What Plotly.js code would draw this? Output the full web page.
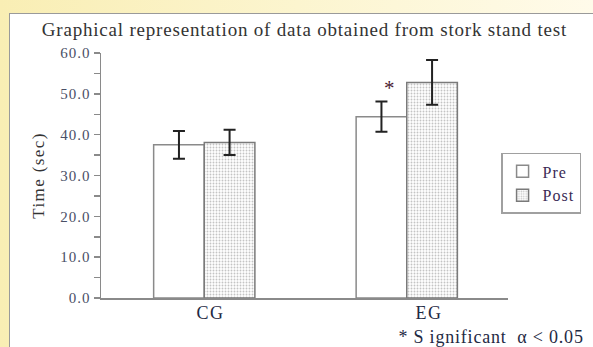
<!DOCTYPE html>
<html>
<head>
<meta charset="utf-8">
<script src="https://cdn.plot.ly/plotly-3.0.1.min.js"></script>
<style>
  html, body { margin: 0; padding: 0; width: 593px; height: 347px; overflow: hidden;
    background: linear-gradient(to right, #f9eeb4 0%, #fcf5cf 50%, #fffbea 100%); }
  #wrap { position: absolute; left: 9px; top: 13px; width: 584px; height: 334px;
    background: #ffffff; border-left: 1.5px solid #9a9a9a; border-top: 1.5px solid #9a9a9a; }
  #chart { width: 583px; height: 334px; }
  text.gtitle { letter-spacing: 0.8px; }
  .ytick text { letter-spacing: 1px; }
  text.ytitle { letter-spacing: 1.4px; }
  text.legendtext { letter-spacing: 1px; }
  .annotation[data-index="0"] text, .annotation[data-index="1"] text { letter-spacing: 1.5px; }
  .annotation[data-index="3"] text { letter-spacing: 0.8px; }
</style>
</head>
<body>
<div id="wrap"><div id="chart"></div></div>
<script>
// ---- data ----
const categories = ["CG", "EG"];
const preMean  = [37.5, 44.4];
const preErr   = [3.4, 3.7];
const postMean = [38.1, 52.8];
const postErr  = [3.1, 5.5];
const significant = [false, true];
const yTickVals = [0, 10, 20, 30, 40, 50, 60];
const yTickText = ["0.0", "10.0", "20.0", "30.0", "40.0", "50.0", "60.0"];

const serif = "Liberation Serif, Times New Roman, serif";

const tracePre = {
  type: "bar", name: "Pre", x: categories, y: preMean,
  marker: { color: "#ffffff", line: { color: "#8a8a8a", width: 1.5 } },
  error_y: { type: "data", array: preErr, visible: true, color: "#222222", thickness: 2, width: 6 }
};
const tracePost = {
  type: "bar", name: "Post", x: categories, y: postMean,
  marker: { color: "#ffffff", line: { color: "#7a7a7a", width: 1.5 },
    pattern: { shape: ".", fgcolor: "#c4c4c4", bgcolor: "#ffffff", size: 3, solidity: 0.3 } },
  error_y: { type: "data", array: postErr, visible: true, color: "#222222", thickness: 2, width: 6 }
};

const annotations = [];
// category labels under the axis
const catShift = [6, 22];
categories.forEach((c, i) => {
  annotations.push({ x: i, y: 0, xref: "x", yref: "y", text: c, showarrow: false,
    yanchor: "top", yshift: -3, xshift: catShift[i],
    font: { family: serif, size: 18, color: "#1f2a44" } });
});
// significance stars
categories.forEach((c, i) => {
  if (significant[i]) {
    annotations.push({ x: i - 0.125, y: preMean[i] + preErr[i], xref: "x", yref: "y",
      text: "*", showarrow: false, yanchor: "bottom", xshift: 8, yshift: 0,
      font: { family: serif, size: 21, color: "#4a2030" } });
  }
});
// footnote
annotations.push({ x: 0.75, y: -0.16, xref: "paper", yref: "paper", xanchor: "left", yanchor: "middle",
  text: "* S ignificant  \u03B1 < 0.05", showarrow: false,
  font: { family: serif, size: 18, color: "#1f2a44" } });

const layout = {
  width: 583, height: 334,
  margin: { l: 91, r: 82, t: 39, b: 50 },
  paper_bgcolor: "#ffffff", plot_bgcolor: "#ffffff",
  title: { text: "Graphical representation of data obtained from stork stand test",
    x: 0.505, xanchor: "center", y: 0.955, yanchor: "middle",
    font: { family: serif, size: 19, color: "#333333" } },
  barmode: "group", bargap: 0.5, bargroupgap: 0,
  showlegend: true,
  legend: { x: 0.983, y: 0.592, xanchor: "left", yanchor: "top",
    bordercolor: "#a0a0a0", borderwidth: 1.5, bgcolor: "#ffffff",
    font: { family: serif, size: 16, color: "#3a2a55" }, itemwidth: 30 },
  xaxis: { range: [-0.51, 1.5], showticklabels: false, ticks: "", showgrid: false, zeroline: false,
    showline: true, linecolor: "#8a8a8a", linewidth: 1.5, fixedrange: true },
  yaxis: { range: [0, 60], tickvals: yTickVals, ticktext: yTickText, ticks: "outside", ticklen: 6,
    tickcolor: "#8a8a8a", tickwidth: 1.5,
    minor: { dtick: 5, ticks: "outside", ticklen: 6, tickcolor: "#8a8a8a", tickwidth: 1.5, showgrid: false },
    showgrid: false, zeroline: false, showline: true, linecolor: "#8a8a8a", linewidth: 1.5,
    tickfont: { family: serif, size: 15, color: "#4a4f66" },
    title: { text: "Time (sec)", standoff: 11, font: { family: serif, size: 17, color: "#333333" } } },
  annotations: annotations
};

Plotly.newPlot("chart", [tracePre, tracePost], layout, { displayModeBar: false, staticPlot: true });
</script>
</body>
</html>
